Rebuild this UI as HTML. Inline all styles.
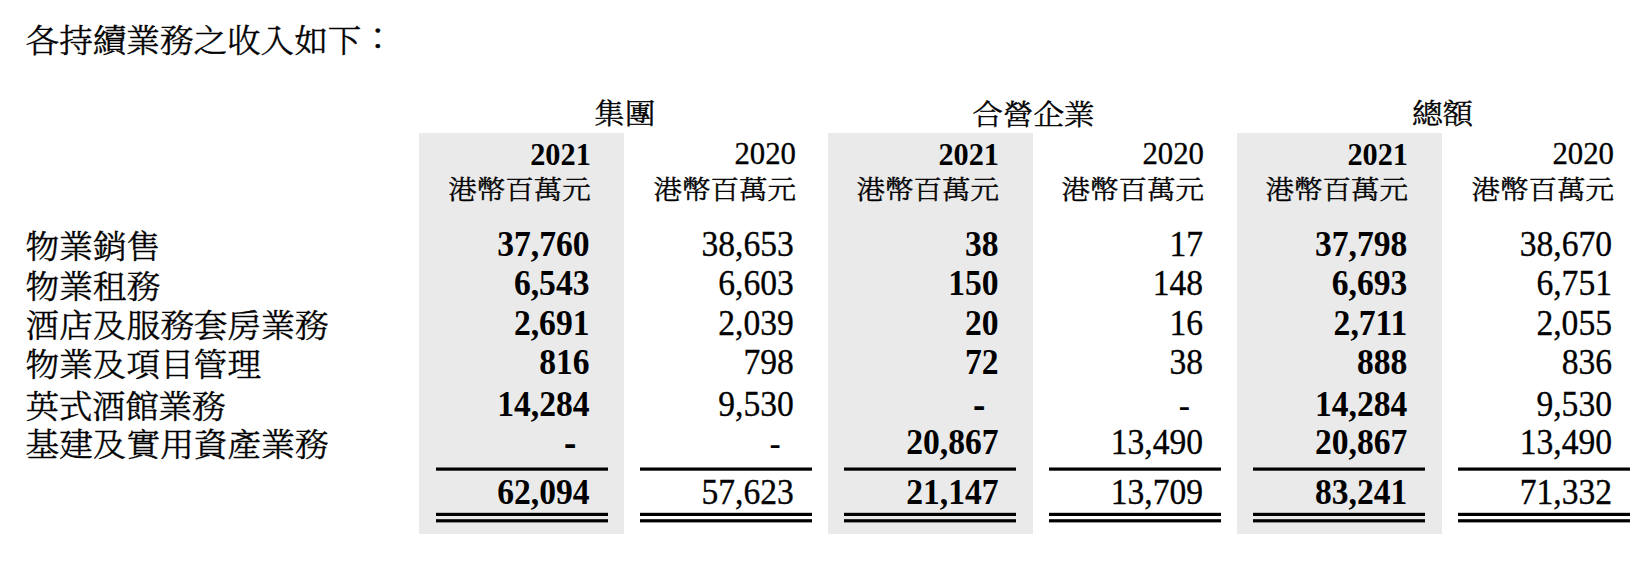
<!DOCTYPE html>
<html lang="zh-Hant"><head><meta charset="utf-8"><title>各持續業務之收入</title>
<style>
html,body{margin:0;padding:0;background:#fff;}
body{width:1644px;height:562px;position:relative;overflow:hidden;color:#000;font-family:"Liberation Serif", "Noto Serif CJK SC", serif;}
.t{position:absolute;white-space:nowrap;line-height:1;}
.r{text-align:right;}
.b{font-weight:bold;}
.g{position:absolute;background:#eaeaea;}
.n{transform:scaleY(1.045);transform-origin:0 50.4%;-webkit-text-stroke:0.3px #000;}
.n.b{transform:scaleY(1.035);-webkit-text-stroke:0;}
.n.y{transform:scaleY(1.03);}
.col{position:relative;top:-2.8px;left:-0.2px;}
.db{transform:translateY(1.3px) scale(1.1,1.3);transform-origin:100% 64%;}
.dr{transform:translateY(1.3px) scale(1.0,1.1);transform-origin:100% 64%;}
.cjk{font-weight:300;-webkit-text-stroke:0.5px #000;transform:scaleY(0.935);transform-origin:0 83.75%;}
</style></head><body>
<div class="g" style="left:419px;top:133px;width:205px;height:401px"></div>
<div class="g" style="left:828px;top:133px;width:205px;height:401px"></div>
<div class="g" style="left:1237px;top:133px;width:205px;height:401px"></div>
<div class="t cjk" style="left:25.50px;top:23.66px;font-size:33.60px">各持續業務之收入如下<span class="col">：</span></div>
<section class="tbl">
<div class="row head">
<div class="t cjk" style="left:424.70px;width:400px;text-align:center;top:98.97px;font-size:30.60px">集團</div>
<div class="t cjk" style="left:833.40px;width:400px;text-align:center;top:100.17px;font-size:30.60px">合營企業</div>
<div class="t cjk" style="left:1242.50px;width:400px;text-align:center;top:98.97px;font-size:30.60px">總額</div>
<div class="t r n y b" style="right:1053.20px;top:139.52px;font-size:30.30px">2021</div>
<div class="t r cjk" style="right:1053.20px;top:175.93px;font-size:28.50px">港幣百萬元</div>
<div class="t r n y" style="right:848.00px;top:139.11px;font-size:30.80px">2020</div>
<div class="t r cjk" style="right:848.00px;top:175.93px;font-size:28.50px">港幣百萬元</div>
<div class="t r n y b" style="right:645.00px;top:139.52px;font-size:30.30px">2021</div>
<div class="t r cjk" style="right:645.00px;top:175.93px;font-size:28.50px">港幣百萬元</div>
<div class="t r n y" style="right:440.00px;top:139.11px;font-size:30.80px">2020</div>
<div class="t r cjk" style="right:440.00px;top:175.93px;font-size:28.50px">港幣百萬元</div>
<div class="t r n y b" style="right:236.00px;top:139.52px;font-size:30.30px">2021</div>
<div class="t r cjk" style="right:236.00px;top:175.93px;font-size:28.50px">港幣百萬元</div>
<div class="t r n y" style="right:30.00px;top:139.11px;font-size:30.80px">2020</div>
<div class="t r cjk" style="right:30.00px;top:175.93px;font-size:28.50px">港幣百萬元</div>
</div>
<div class="row">
<div class="t cjk" style="left:25.50px;top:229.99px;font-size:33.68px">物業銷售</div>
<div class="t r b n" style="right:1054.50px;top:227.86px;font-size:33.60px">37,760</div>
<div class="t r  n" style="right:850.20px;top:227.86px;font-size:33.60px">38,653</div>
<div class="t r b n" style="right:645.50px;top:227.86px;font-size:33.60px">38</div>
<div class="t r  n" style="right:441.00px;top:227.86px;font-size:33.60px">17</div>
<div class="t r b n" style="right:236.70px;top:227.86px;font-size:33.60px">37,798</div>
<div class="t r  n" style="right:32.00px;top:227.86px;font-size:33.60px">38,670</div>
</div>
<div class="row">
<div class="t cjk" style="left:25.50px;top:269.59px;font-size:33.68px">物業租務</div>
<div class="t r b n" style="right:1054.50px;top:267.06px;font-size:33.60px">6,543</div>
<div class="t r  n" style="right:850.20px;top:267.06px;font-size:33.60px">6,603</div>
<div class="t r b n" style="right:645.50px;top:267.06px;font-size:33.60px">150</div>
<div class="t r  n" style="right:441.00px;top:267.06px;font-size:33.60px">148</div>
<div class="t r b n" style="right:236.70px;top:267.06px;font-size:33.60px">6,693</div>
<div class="t r  n" style="right:32.00px;top:267.06px;font-size:33.60px">6,751</div>
</div>
<div class="row">
<div class="t cjk" style="left:25.50px;top:308.69px;font-size:33.68px">酒店及服務套房業務</div>
<div class="t r b n" style="right:1054.50px;top:306.56px;font-size:33.60px">2,691</div>
<div class="t r  n" style="right:850.20px;top:306.56px;font-size:33.60px">2,039</div>
<div class="t r b n" style="right:645.50px;top:306.56px;font-size:33.60px">20</div>
<div class="t r  n" style="right:441.00px;top:306.56px;font-size:33.60px">16</div>
<div class="t r b n" style="right:236.70px;top:306.56px;font-size:33.60px">2,711</div>
<div class="t r  n" style="right:32.00px;top:306.56px;font-size:33.60px">2,055</div>
</div>
<div class="row">
<div class="t cjk" style="left:25.50px;top:348.19px;font-size:33.68px">物業及項目管理</div>
<div class="t r b n" style="right:1054.50px;top:346.06px;font-size:33.60px">816</div>
<div class="t r  n" style="right:850.20px;top:346.06px;font-size:33.60px">798</div>
<div class="t r b n" style="right:645.50px;top:346.06px;font-size:33.60px">72</div>
<div class="t r  n" style="right:441.00px;top:346.06px;font-size:33.60px">38</div>
<div class="t r b n" style="right:236.70px;top:346.06px;font-size:33.60px">888</div>
<div class="t r  n" style="right:32.00px;top:346.06px;font-size:33.60px">836</div>
</div>
<div class="row">
<div class="t cjk" style="left:25.50px;top:390.29px;font-size:33.68px;letter-spacing:-0.40px">英式酒館業務</div>
<div class="t r b n" style="right:1054.50px;top:388.16px;font-size:33.60px">14,284</div>
<div class="t r  n" style="right:850.20px;top:388.16px;font-size:33.60px">9,530</div>
<div class="t r b db" style="right:658.50px;top:388.16px;font-size:33.60px">-</div>
<div class="t r  dr" style="right:454.20px;top:388.16px;font-size:33.60px">-</div>
<div class="t r b n" style="right:236.70px;top:388.16px;font-size:33.60px">14,284</div>
<div class="t r  n" style="right:32.00px;top:388.16px;font-size:33.60px">9,530</div>
</div>
<div class="row">
<div class="t cjk" style="left:25.50px;top:427.99px;font-size:33.68px">基建及實用資產業務</div>
<div class="t r b db" style="right:1067.50px;top:426.06px;font-size:33.60px">-</div>
<div class="t r  dr" style="right:863.40px;top:426.06px;font-size:33.60px">-</div>
<div class="t r b n" style="right:645.50px;top:426.06px;font-size:33.60px">20,867</div>
<div class="t r  n" style="right:441.00px;top:426.06px;font-size:33.60px">13,490</div>
<div class="t r b n" style="right:236.70px;top:426.06px;font-size:33.60px">20,867</div>
<div class="t r  n" style="right:32.00px;top:426.06px;font-size:33.60px">13,490</div>
</div>
<div class="row total">
<div class="t r n b" style="right:1054.50px;top:476.06px;font-size:33.60px">62,094</div>
<div class="t r n" style="right:850.20px;top:476.06px;font-size:33.60px">57,623</div>
<div class="t r n b" style="right:645.50px;top:476.06px;font-size:33.60px">21,147</div>
<div class="t r n" style="right:441.00px;top:476.06px;font-size:33.60px">13,709</div>
<div class="t r n b" style="right:236.70px;top:476.06px;font-size:33.60px">83,241</div>
<div class="t r n" style="right:32.00px;top:476.06px;font-size:33.60px">71,332</div>
</div>
</section>
<svg width="1644" height="562" style="position:absolute;left:0;top:0" fill="#000">
<rect x="436.0" y="467.50" width="172.0" height="3.20"/>
<rect x="436.0" y="512.80" width="172.0" height="3.20"/>
<rect x="436.0" y="519.20" width="172.0" height="3.20"/>
<rect x="640.0" y="467.50" width="172.0" height="3.20"/>
<rect x="640.0" y="512.80" width="172.0" height="3.20"/>
<rect x="640.0" y="519.20" width="172.0" height="3.20"/>
<rect x="844.0" y="467.50" width="172.0" height="3.20"/>
<rect x="844.0" y="512.80" width="172.0" height="3.20"/>
<rect x="844.0" y="519.20" width="172.0" height="3.20"/>
<rect x="1049.0" y="467.50" width="172.0" height="3.20"/>
<rect x="1049.0" y="512.80" width="172.0" height="3.20"/>
<rect x="1049.0" y="519.20" width="172.0" height="3.20"/>
<rect x="1253.0" y="467.50" width="172.0" height="3.20"/>
<rect x="1253.0" y="512.80" width="172.0" height="3.20"/>
<rect x="1253.0" y="519.20" width="172.0" height="3.20"/>
<rect x="1458.0" y="467.50" width="172.0" height="3.20"/>
<rect x="1458.0" y="512.80" width="172.0" height="3.20"/>
<rect x="1458.0" y="519.20" width="172.0" height="3.20"/>
</svg>
</body></html>
